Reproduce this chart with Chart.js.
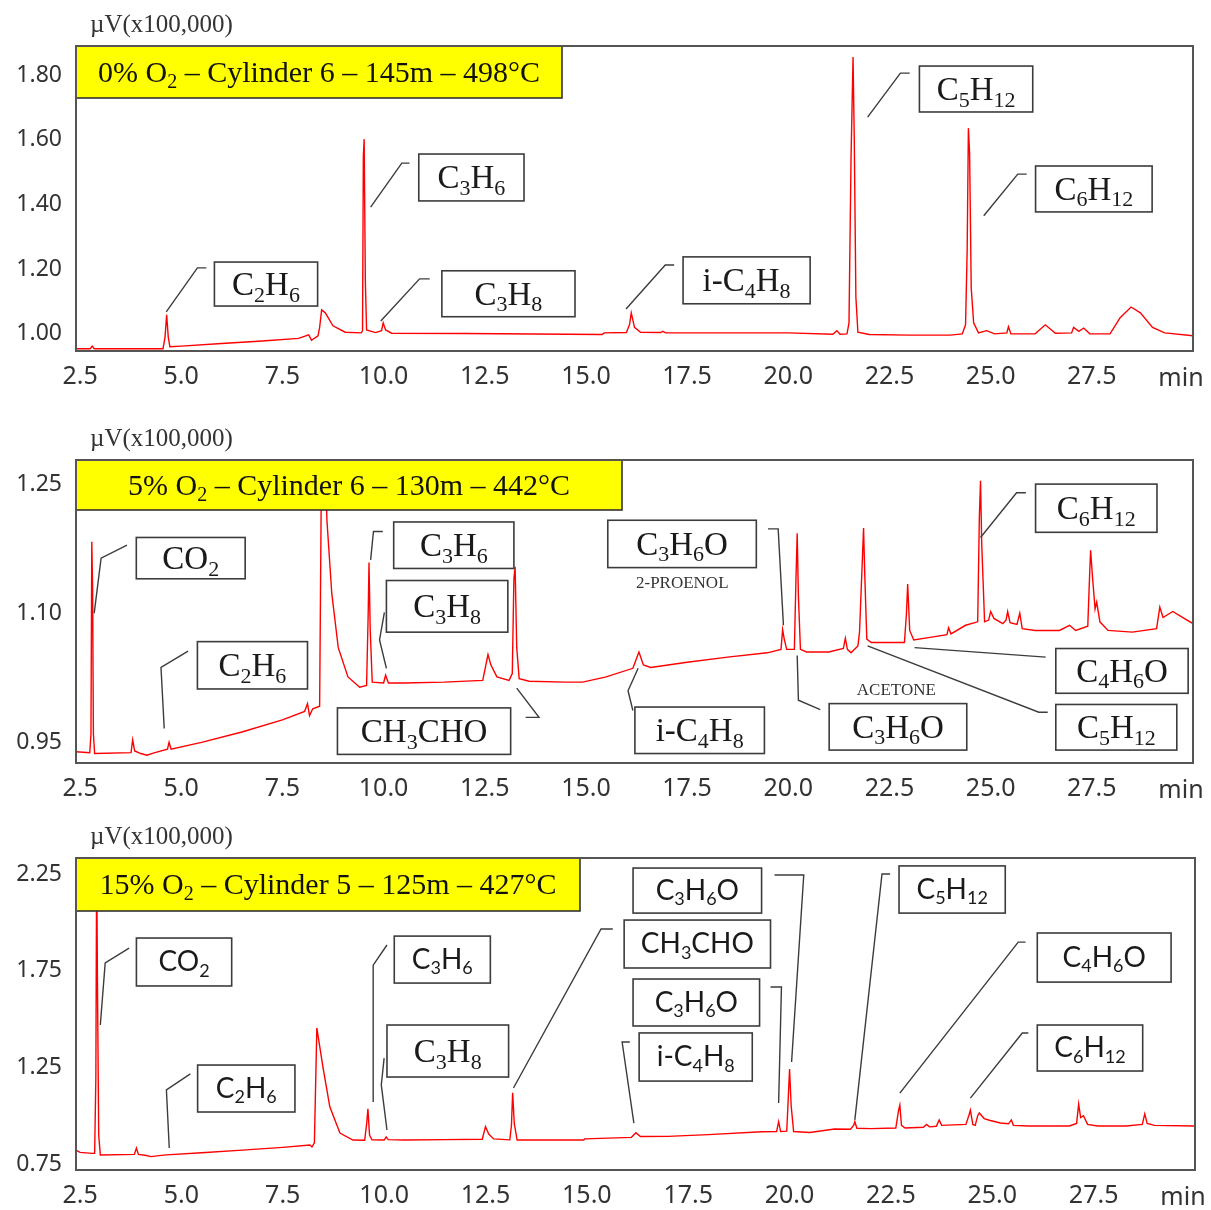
<!DOCTYPE html>
<html>
<head>
<meta charset="utf-8">
<script src="https://cdn.jsdelivr.net/npm/chart.js@4.4.1/dist/chart.umd.min.js"></script>
<style>
html, body { margin: 0; padding: 0; background: #fff; }
#wrap { position: relative; width: 1211px; height: 1210px; }
canvas { position: absolute; left: 0; }
</style>
</head>
<body>
<div id="wrap">
  <canvas id="c1" width="1211" height="405" style="top:0px"></canvas>
  <canvas id="c2" width="1211" height="405" style="top:405px"></canvas>
  <canvas id="c3" width="1211" height="400" style="top:810px"></canvas>
</div>
<script>
// retention time ticks (min), same for all three runs
var timeTicks = [2.5, 5, 7.5, 10, 12.5, 15, 17.5, 20, 22.5, 25, 27.5];
var ticks0 = [1.00, 1.20, 1.40, 1.60, 1.80];
var ticks5 = [0.95, 1.10, 1.25];
var ticks15 = [0.75, 1.25, 1.75, 2.25];

// [min, uV x100,000]
var run0 = [[2.40,0.954],[2.75,0.954],[2.80,0.962],[2.85,0.954],[4.55,0.954],[4.60,0.990],[4.64,1.059],[4.68,0.990],[4.72,0.960],
  [5.0,0.962],[6.0,0.970],[7.0,0.978],[7.9,0.986],[8.15,0.997],[8.22,0.980],[8.38,0.994],[8.42,1.020],[8.47,1.074],[8.56,1.065],
  [8.75,1.025],[9.05,1.005],[9.45,1.003],[9.48,1.010],[9.50,1.550],[9.52,1.602],[9.55,1.160],[9.58,1.012],[9.8,1.004],[9.95,1.010],
  [9.99,1.034],[10.05,1.012],[10.2,1.002],[12.0,1.001],[15.4,0.998],[15.45,1.003],[16.0,1.004],[16.08,1.030],[16.12,1.065],[16.2,1.020],
  [16.35,1.005],[16.85,1.004],[16.9,1.008],[16.97,1.003],[20.0,1.003],[21.1,0.999],[21.2,1.010],[21.28,0.999],[21.45,1.000],[21.50,1.034],
  [21.55,1.540],[21.60,1.856],[21.63,1.605],[21.67,1.114],[21.72,1.005],[22.0,0.998],[23.0,0.996],[24.0,0.996],[24.3,1.000],[24.38,1.028],
  [24.42,1.260],[24.45,1.636],[24.48,1.559],[24.52,1.142],[24.58,1.034],[24.7,1.003],[24.9,1.010],[25.1,1.000],[25.4,1.003],[25.44,1.022],
  [25.5,1.000],[26.1,1.000],[26.35,1.028],[26.6,1.002],[27.0,1.003],[27.05,1.020],[27.18,1.008],[27.3,1.018],[27.45,1.000],[27.95,1.000],
  [28.2,1.050],[28.47,1.083],[28.7,1.065],[29.0,1.020],[29.3,1.003],[30.0,0.994]];

var run5 = [[2.40,0.939],[2.74,0.938],[2.77,0.960],[2.79,1.183],[2.81,1.129],[2.83,0.960],[2.86,0.937],[3.76,0.938],[3.80,0.953],[3.85,0.940],
  [4.0,0.937],[4.15,0.935],[4.35,0.938],[4.66,0.942],[4.70,0.950],[4.75,0.942],[5.5,0.950],[6.5,0.962],[7.5,0.976],[8.05,0.986],[8.12,0.995],
  [8.17,0.981],[8.25,0.989],[8.42,0.992],[8.47,1.30],[8.55,1.30],[8.60,1.208],[8.72,1.123],[8.88,1.060],[9.12,1.026],[9.41,1.014],[9.58,1.016],
  [9.62,1.100],[9.64,1.159],[9.67,1.080],[9.72,1.020],[10.0,1.019],[10.05,1.028],[10.12,1.019],[10.5,1.019],[11.5,1.020],[12.45,1.022],
  [12.58,1.052],[12.65,1.040],[12.80,1.026],[13.10,1.022],[13.18,1.030],[13.22,1.140],[13.25,1.154],[13.29,1.060],[13.35,1.024],[13.6,1.021],
  [14.5,1.020],[14.92,1.020],[15.5,1.026],[16.16,1.036],[16.27,1.050],[16.31,1.055],[16.42,1.040],[16.6,1.037],[17.5,1.043],[18.5,1.049],
  [19.48,1.054],[19.82,1.058],[19.86,1.081],[19.90,1.070],[19.96,1.058],[20.15,1.058],[20.19,1.140],[20.22,1.193],[20.25,1.120],[20.30,1.058],
  [20.45,1.055],[21.0,1.055],[21.36,1.059],[21.41,1.071],[21.46,1.058],[21.55,1.054],[21.72,1.062],[21.76,1.078],[21.82,1.150],[21.86,1.199],
  [21.89,1.144],[21.94,1.070],[22.05,1.066],[22.87,1.066],[22.92,1.100],[22.95,1.134],[23.0,1.080],[23.10,1.069],[23.5,1.072],[23.92,1.075],
  [23.96,1.083],[24.02,1.076],[24.38,1.086],[24.68,1.090],[24.72,1.210],[24.75,1.254],[24.78,1.180],[24.85,1.090],[24.95,1.092],[25.0,1.102],
  [25.08,1.094],[25.3,1.088],[25.38,1.092],[25.42,1.102],[25.48,1.089],[25.65,1.087],[25.72,1.100],[25.78,1.082],[26.1,1.080],[26.7,1.080],
  [26.95,1.086],[27.10,1.080],[27.40,1.085],[27.45,1.150],[27.47,1.173],[27.52,1.140],[27.58,1.105],[27.62,1.113],[27.70,1.090],[27.90,1.080],
  [28.5,1.078],[29.10,1.082],[29.18,1.107],[29.26,1.095],[29.5,1.102],[29.75,1.095],[30.0,1.088]];

var run15 = [[2.40,0.822],[2.50,0.810],[2.80,0.805],[2.86,0.805],[2.89,1.20],[2.91,2.35],[2.93,1.66],[2.96,0.90],[3.00,0.797],[3.84,0.800],
  [3.89,0.833],[3.94,0.800],[4.10,0.795],[4.25,0.788],[4.40,0.792],[4.63,0.797],[5.5,0.808],[6.5,0.822],[7.5,0.836],[8.17,0.848],[8.22,0.838],
  [8.28,0.860],[8.34,1.454],[8.49,1.253],[8.66,1.046],[8.91,0.910],[9.23,0.874],[9.52,0.873],[9.57,0.960],[9.60,1.035],[9.64,0.900],[9.70,0.875],
  [10.0,0.874],[10.05,0.890],[10.10,0.876],[10.5,0.874],[11.5,0.876],[12.42,0.878],[12.50,0.943],[12.58,0.905],[12.70,0.880],[13.10,0.875],
  [13.14,0.950],[13.17,1.119],[13.21,0.960],[13.28,0.874],[14.0,0.874],[14.92,0.874],[14.95,0.880],[16.10,0.888],[16.21,0.912],[16.32,0.892],
  [17.0,0.893],[18.0,0.902],[19.31,0.917],[19.68,0.918],[19.73,0.969],[19.78,0.918],[19.93,0.920],[19.97,1.100],[20.00,1.241],[20.04,1.050],
  [20.10,0.918],[20.5,0.913],[21.11,0.931],[21.50,0.930],[21.58,0.950],[21.61,0.969],[21.66,0.935],[22.0,0.933],[22.62,0.936],[22.69,1.030],
  [22.72,1.055],[22.76,0.950],[22.85,0.936],[23.3,0.940],[23.38,0.955],[23.45,0.942],[23.62,0.945],[23.69,0.978],[23.75,0.950],[24.35,0.955],
  [24.42,1.000],[24.46,1.029],[24.52,0.955],[24.58,0.950],[24.64,1.000],[24.68,1.014],[24.80,0.985],[24.95,0.975],[25.2,0.962],[25.4,0.958],
  [25.47,0.978],[25.52,0.950],[25.9,0.947],[26.9,0.947],[27.08,0.960],[27.13,1.060],[27.18,0.990],[27.25,1.000],[27.35,0.955],[27.6,0.947],
  [28.3,0.947],[28.7,0.955],[28.76,1.009],[28.82,0.960],[29.0,0.950],[30.0,0.947]];

// peak labels: box [t1, v1, t2, v2] and leader line, both in axis units
var peaks0 = [
  {text: 'C_2H_6', box: [5.82,1.222,8.37,1.086], line: [[4.63,1.068],[5.40,1.204],[5.62,1.204]]},
  {text: 'C_3H_6', box: [10.87,1.556,13.47,1.411], line: [[9.68,1.392],[10.45,1.528],[10.64,1.528]]},
  {text: 'C_3H_8', box: [11.44,1.195,14.73,1.053], line: [[9.93,1.040],[10.89,1.170],[11.14,1.170]]},
  {text: 'i-C_4H_8', box: [17.40,1.238,20.54,1.093], line: [[15.99,1.077],[16.96,1.213],[17.18,1.213]]},
  {text: 'C_5H_12', box: [23.24,1.828,26.04,1.686], line: [[21.96,1.670],[22.77,1.806],[23.00,1.806]]},
  {text: 'C_6H_12', box: [26.11,1.519,28.99,1.377], line: [[24.83,1.365],[25.67,1.494],[25.89,1.494]]}
];
var peaks5 = [
  {text: 'CO_2', box: [3.89,1.188,6.58,1.140], line: [[2.85,1.100],[3.02,1.164],[3.66,1.179]]},
  {text: 'C_2H_6', box: [5.40,1.067,8.12,1.012], line: [[4.58,0.966],[4.50,1.037],[5.17,1.056]]},
  {text: 'C_3H_6', box: [10.25,1.206,13.22,1.152], line: [[9.68,1.162],[9.75,1.195],[9.98,1.195]]},
  {text: 'C_3H_8', box: [10.07,1.138,13.07,1.078], line: [[10.07,1.036],[9.90,1.069],[10.02,1.101]]},
  {text: 'CH_3CHO', box: [8.86,0.990,13.14,0.936], line: [[13.29,1.013],[13.84,0.979],[13.51,0.979]]},
  {text: 'C_3H_6O', box: [15.54,1.208,19.21,1.153], line: [[19.50,1.198],[19.75,1.198],[19.88,1.086]]},
  {text: 'i-C_4H_8', box: [16.21,0.991,19.41,0.937], line: [[16.16,0.987],[16.04,1.010],[16.29,1.036]]},
  {text: 'C_3H_6O', box: [21.01,0.995,24.41,0.941], line: [[20.22,1.051],[20.25,0.999],[20.79,0.988]]},
  {text: 'C_4H_6O', box: [26.61,1.059,29.88,1.007], line: [[23.12,1.060],[26.36,1.049]]},
  {text: 'C_5H_12', box: [26.61,0.994,29.60,0.941], line: [[21.96,1.062],[26.19,0.985],[26.41,0.985]]},
  {text: 'C_6H_12', box: [26.11,1.250,29.11,1.194], line: [[24.75,1.188],[25.64,1.240],[25.87,1.240]]}
];
var notes5 = [
  {text: '2-PROENOL', at: [17.38,1.136]},
  {text: 'ACETONE', at: [22.67,1.012]}
];
var peaks15 = [
  {text: 'CO_2', sans: true, box: [3.89,1.919,6.24,1.671], line: [[3.00,1.469],[3.12,1.790],[3.71,1.867]]},
  {text: 'C_2H_6', sans: true, box: [5.40,1.262,7.80,1.019], line: [[4.70,0.833],[4.63,1.133],[5.22,1.216]]},
  {text: 'C_3H_6', sans: true, box: [10.25,1.929,12.62,1.686], line: [[9.73,1.071],[9.73,1.779],[10.07,1.883]]},
  {text: 'C_3H_8', box: [10.07,1.469,13.07,1.200], line: [[10.07,0.926],[9.93,1.159],[10.0,1.298]]},
  {text: 'CH_3CHO', sans: true, box: [15.92,2.012,19.53,1.764], line: [[13.19,1.143],[15.35,1.966],[15.64,1.966]]},
  {text: 'C_3H_6O', sans: true, box: [16.14,2.281,19.31,2.048], line: [[20.05,1.278],[20.35,2.245],[19.63,2.245]]},
  {text: 'C_3H_6O', sans: true, box: [16.14,1.707,19.26,1.464], line: [[19.73,1.066],[19.80,1.666],[19.53,1.666]]},
  {text: 'i-C_4H_8', sans: true, box: [16.29,1.428,19.08,1.179], line: [[16.16,0.962],[15.87,1.381],[16.06,1.381]]},
  {text: 'C_5H_12', sans: true, box: [22.70,2.292,25.32,2.048], line: [[21.61,0.978],[22.28,2.250],[22.48,2.250]]},
  {text: 'C_4H_6O', sans: true, box: [26.11,1.945,29.41,1.691], line: [[22.72,1.117],[25.64,1.898],[25.82,1.898]]},
  {text: 'C_6H_12', sans: true, box: [26.11,1.469,28.71,1.231], line: [[24.46,1.091],[25.74,1.428],[25.89,1.428]]}
];

var SERIF = '"Liberation Serif", "Times New Roman", serif';
var SANS = 'Lato, "Noto Sans", sans-serif';
var TICKF = '"Noto Sans", "Open Sans", sans-serif';

// text with _digits subscripts, centred at x (or starting at x), vertically centred at y
function drawRich(ctx, str, x, y, size, fam, left) {
  var parts = str.split(/_(\d+)/);
  var sub = Math.round(size * 0.66);
  var w = 0;
  parts.forEach(function (p, i) {
    ctx.font = (i % 2 ? sub : size) + 'px ' + fam;
    w += ctx.measureText(p).width;
  });
  var cx = left ? x : x - w / 2;
  var base = y + size * 0.33;
  ctx.textAlign = 'left';
  ctx.textBaseline = 'alphabetic';
  parts.forEach(function (p, i) {
    ctx.font = (i % 2 ? sub : size) + 'px ' + fam;
    ctx.fillText(p, cx, i % 2 ? base + size * 0.2 : base);
    cx += ctx.measureText(p).width;
  });
}

function labelsPlugin(cfg) {
  return {
    id: 'peakLabels',
    afterDatasetsDraw: function (chart) {
      var ctx = chart.ctx, a = chart.chartArea;
      var xs = chart.scales.x, ys = chart.scales.y;
      function px(t) { return xs.getPixelForValue(t); }
      function py(v) { return ys.getPixelForValue(v); }
      ctx.save();

      // leader lines
      ctx.strokeStyle = '#3c3c3c';
      ctx.lineWidth = 1.4;
      cfg.peaks.forEach(function (p) {
        ctx.beginPath();
        p.line.forEach(function (q, i) {
          if (i) ctx.lineTo(px(q[0]), py(q[1])); else ctx.moveTo(px(q[0]), py(q[1]));
        });
        ctx.stroke();
      });

      // label boxes
      cfg.peaks.forEach(function (p) {
        var l = px(p.box[0]), t = py(p.box[1]), r = px(p.box[2]), b = py(p.box[3]);
        ctx.fillStyle = '#fff';
        ctx.fillRect(l, t, r - l, b - t);
        ctx.lineWidth = 1.6;
        ctx.strokeStyle = '#3c3c3c';
        ctx.strokeRect(l, t, r - l, b - t);
        ctx.fillStyle = '#1a1a1a';
        if (p.sans) drawRich(ctx, p.text, (l + r) / 2, (t + b) / 2, 28, SANS);
        else drawRich(ctx, p.text, (l + r) / 2, (t + b) / 2, 33, SERIF);
      });
      (cfg.notes || []).forEach(function (n) {
        ctx.fillStyle = '#333';
        drawRich(ctx, n.text, px(n.at[0]), py(n.at[1]), 17, SERIF);
      });

      // yellow run box
      ctx.fillStyle = '#ffff00';
      ctx.fillRect(a.left, a.top, cfg.titleW, cfg.titleH);
      ctx.strokeStyle = '#333';
      ctx.lineWidth = 1.6;
      ctx.strokeRect(a.left, a.top, cfg.titleW, cfg.titleH);
      ctx.fillStyle = '#111';
      drawRich(ctx, cfg.title, a.left + cfg.titleW / 2, a.top + cfg.titleH / 2, 30, SERIF);

      // frame
      ctx.strokeStyle = '#555';
      ctx.lineWidth = 2;
      ctx.strokeRect(a.left, a.top, a.right - a.left, a.bottom - a.top);

      // unit + min
      ctx.fillStyle = '#333';
      drawRich(ctx, '\u00b5V(x100,000)', a.left + 14, a.top - 22, 25, SERIF, true);
      ctx.font = '25px ' + TICKF;
      ctx.textAlign = 'center';
      ctx.textBaseline = 'middle';
      ctx.fillText('min', a.right - 12, a.bottom + 28);
      ctx.restore();
    }
  };
}

function makeChart(id, run, yTicks, cfg) {
  return new Chart(document.getElementById(id), {
    type: 'line',
    data: {
      datasets: [{
        data: run.map(function (p) { return {x: p[0], y: p[1]}; }),
        borderColor: '#ff0000',
        borderWidth: 1.4,
        pointRadius: 0,
        tension: 0,
        fill: false
      }]
    },
    options: {
      responsive: false,
      animation: false,
      events: [],
      layout: {padding: {top: cfg.top, right: cfg.right, left: 0, bottom: 0}},
      plugins: {legend: {display: false}, tooltip: {enabled: false}},
      scales: {
        x: {
          type: 'linear', min: 2.4, max: 30,
          grid: {display: false, drawTicks: false},
          border: {display: false},
          ticks: {
            padding: 11, color: '#333', maxRotation: 0, autoSkip: false,
            font: {family: TICKF, size: 25},
            callback: function (v) { return v.toFixed(1); }
          },
          afterBuildTicks: function (s) { s.ticks = timeTicks.map(function (v) { return {value: v}; }); },
          afterFit: function (s) { s.height = cfg.xh; }
        },
        y: {
          type: 'linear', min: cfg.ymin, max: cfg.ymax,
          grid: {display: false, drawTicks: false},
          border: {display: false},
          ticks: {
            padding: 14, color: '#333',
            font: {family: TICKF, size: 23},
            callback: function (v) { return v.toFixed(2); }
          },
          afterBuildTicks: function (s) { s.ticks = yTicks.map(function (v) { return {value: v}; }); },
          afterFit: function (s) { s.width = 76; }
        }
      }
    },
    plugins: [labelsPlugin(cfg)]
  });
}

makeChart('c1', run0, ticks0, {
  top: 46, right: 18, xh: 54, ymin: 0.947, ymax: 1.89,
  title: '0% O_2 \u2013 Cylinder 6 \u2013 145m \u2013 498\u00b0C', titleW: 486, titleH: 52,
  peaks: peaks0
});
makeChart('c2', run5, ticks5, {
  top: 55, right: 18, xh: 47, ymin: 0.926, ymax: 1.278,
  title: '5% O_2 \u2013 Cylinder 6 \u2013 130m \u2013 442\u00b0C', titleW: 546, titleH: 50,
  peaks: peaks5, notes: notes5
});
makeChart('c3', run15, ticks15, {
  top: 48, right: 16, xh: 40, ymin: 0.719, ymax: 2.333,
  title: '15% O_2 \u2013 Cylinder 5 \u2013 125m \u2013 427\u00b0C', titleW: 504, titleH: 53,
  peaks: peaks15
});
</script>
</body>
</html>
